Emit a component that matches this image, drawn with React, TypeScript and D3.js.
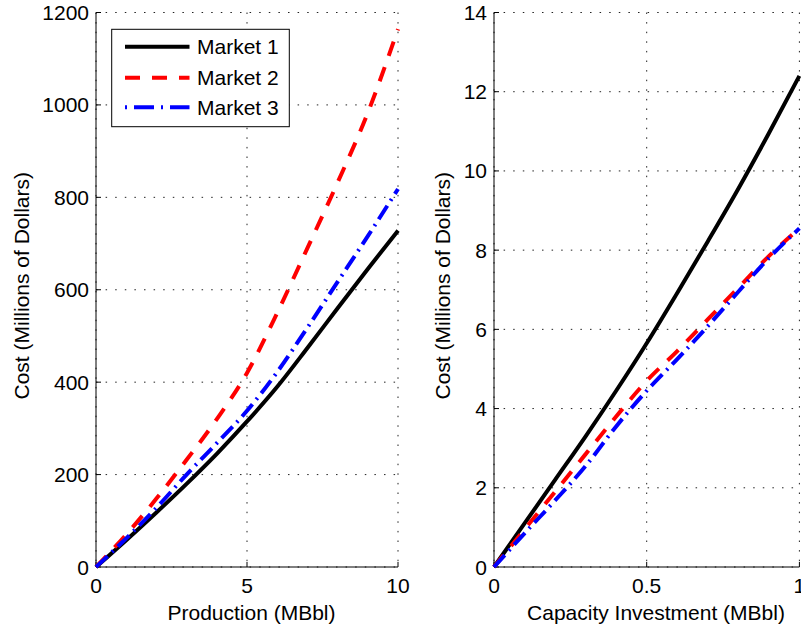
// Two side-by-side cost curves (production cost and capacity investment cost)
// for three markets, MATLAB-style axes with dotted grid.
import React from 'react';
import * as d3 from 'd3';

const marketNames = ['Market 1', 'Market 2', 'Market 3'];

// left panel: cost vs production
const productionX = [0, 1, 2, 3, 4, 5, 6, 7, 8, 9, 10];
const productionM1 = [0, 58, 118, 180, 245, 315, 390, 474, 560, 645, 728];
const productionM2 = [0, 70, 148, 232, 320, 420, 550, 690, 832, 983, 1164];
const productionM3 = [0, 62, 128, 200, 268, 338, 422, 518, 617, 716, 818];
const productionXTicks = [0, 5, 10];
const productionYTicks = [0, 200, 400, 600, 800, 1000, 1200];

// right panel: cost vs capacity investment
const capacityX = [0, 0.1, 0.2, 0.3, 0.4, 0.5, 0.6, 0.7, 0.8, 0.9, 1.0];
const capacityM1 = [0, 1.1, 2.2, 3.3, 4.45, 5.65, 6.92, 8.22, 9.55, 10.95, 12.4];
const capacityM2 = [0, 0.95, 1.9, 2.85, 3.8, 4.7, 5.45, 6.25, 7.05, 7.85, 8.55];
const capacityM3 = [0, 0.85, 1.68, 2.55, 3.55, 4.45, 5.25, 6.08, 6.95, 7.8, 8.55];
const capacityXTicks = [0, 0.5, 1];
const capacityYTicks = [0, 2, 4, 6, 8, 10, 12, 14];

const styles = [
  { color: '#000000', dash: null },
  { color: '#ff0000', dash: '15,12' },
  { color: '#0000ff', dash: '16,6,2,6' }
];

const FONT = '"Liberation Sans", Arial, Helvetica, sans-serif';
const FS = 21;
const TOP = 12.5;
const BOTTOM = 567;

function Panel({ x0, x1, xDomain, yDomain, xTicks, yTicks, xs, series, xLabel, xLabelX, yLabelX, fmt }) {
  const x = d3.scaleLinear().domain(xDomain).range([x0, x1]);
  const y = d3.scaleLinear().domain(yDomain).range([BOTTOM, TOP]);
  const line = d3.line<number>()
    .x((d, i) => x(xs[i]))
    .y(d => y(d))
    .curve(d3.curveMonotoneX);

  return (
    <g>
      {/* dotted grid */}
      {xTicks.map(t => (
        <line key={'gx' + t} x1={x(t)} x2={x(t)} y1={TOP} y2={BOTTOM}
          stroke="#222" strokeWidth={1} strokeDasharray="1.5,8.1" />
      ))}
      {yTicks.map(t => (
        <line key={'gy' + t} x1={x0} x2={x1} y1={y(t)} y2={y(t)}
          stroke="#222" strokeWidth={1} strokeDasharray="1.5,8.1" />
      ))}
      {/* axes */}
      <line x1={x0} x2={x0} y1={TOP} y2={BOTTOM} stroke="#000" strokeWidth={1} />
      <line x1={x0} x2={x1} y1={BOTTOM} y2={BOTTOM} stroke="#000" strokeWidth={1} />
      {xTicks.map(t => (
        <g key={'tx' + t}>
          <line x1={x(t)} x2={x(t)} y1={BOTTOM} y2={BOTTOM - 5} stroke="#000" />
          <text x={x(t)} y={593} textAnchor="middle" fontSize={FS} fontFamily={FONT}>{fmt(t)}</text>
        </g>
      ))}
      {yTicks.map(t => (
        <g key={'ty' + t}>
          <line x1={x0} x2={x0 + 5} y1={y(t)} y2={y(t)} stroke="#000" />
          <text x={x0 - 7} y={y(t)} dy="0.36em" textAnchor="end" fontSize={FS} fontFamily={FONT}>{t}</text>
        </g>
      ))}
      {/* curves */}
      {series.map((s, i) => (
        <path key={'s' + i} d={line(s) || ''} fill="none" stroke={styles[i].color}
          strokeWidth={4} strokeDasharray={styles[i].dash || undefined} />
      ))}
      {/* labels */}
      <text x={xLabelX} y={620} textAnchor="middle" fontSize={FS} fontFamily={FONT}>{xLabel}</text>
      <text transform={`translate(${yLabelX},${(TOP + BOTTOM) / 2 - 4}) rotate(-90)`}
        textAnchor="middle" fontSize={FS} fontFamily={FONT}>Cost (Millions of Dollars)</text>
    </g>
  );
}

function Legend() {
  const rows = [46.7, 77.7, 107.3];
  return (
    <g>
      <rect x={111.7} y={29.3} width={177.6} height={97.4} fill="#fff" stroke="#000" strokeWidth={1} />
      {marketNames.map((name, i) => (
        <g key={name}>
          <line x1={125} x2={189.5} y1={rows[i]} y2={rows[i]} stroke={styles[i].color}
            strokeWidth={4} strokeDasharray={i === 2 ? '2,7,20,7' : styles[i].dash || undefined} />
          <text x={197} y={rows[i]} dy="0.36em" fontSize={FS} fontFamily={FONT}>{name}</text>
        </g>
      ))}
    </g>
  );
}

export default function App() {
  return (
    <svg width={801} height={626} style={{ position: 'absolute', left: 0, top: 0, background: '#fff' }}>
      <Panel x0={96} x1={398} xDomain={[0, 10]} yDomain={[0, 1200]}
        xTicks={productionXTicks} yTicks={productionYTicks} xs={productionX}
        series={[productionM1, productionM2, productionM3]}
        xLabel="Production (MBbl)" xLabelX={251.5} yLabelX={28.5} fmt={d => String(d)} />
      <Panel x0={494} x1={799.4} xDomain={[0, 1]} yDomain={[0, 14]}
        xTicks={capacityXTicks} yTicks={capacityYTicks} xs={capacityX}
        series={[capacityM1, capacityM2, capacityM3]}
        xLabel="Capacity Investment (MBbl)" xLabelX={656} yLabelX={450} fmt={d => String(d)} />
      <Legend />
    </svg>
  );
}
